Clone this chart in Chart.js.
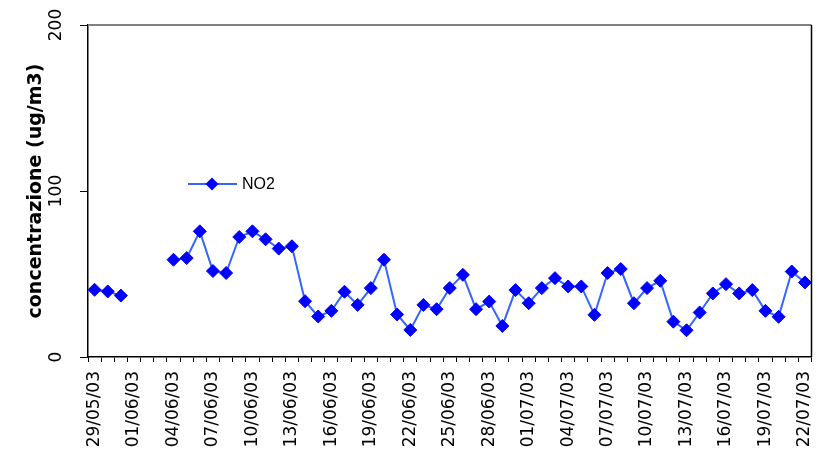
<!DOCTYPE html>
<html>
<head>
<meta charset="utf-8">
<script src="https://cdn.jsdelivr.net/npm/chart.js@4.4.0/dist/chart.umd.min.js"></script>
<style>
    html, body { margin: 0; padding: 0; background: #fff; }
    #wrap { width: 819px; height: 458px; }
</style>
</head>
<body>
<div id="wrap"><canvas id="chart"></canvas></div>
<script>
// Daily dates 29/05/03 .. 22/07/03
const dates = [
    '29/05/03', '30/05/03', '31/05/03', '01/06/03', '02/06/03', '03/06/03', '04/06/03', '05/06/03',
    '06/06/03', '07/06/03', '08/06/03', '09/06/03', '10/06/03', '11/06/03', '12/06/03', '13/06/03',
    '14/06/03', '15/06/03', '16/06/03', '17/06/03', '18/06/03', '19/06/03', '20/06/03', '21/06/03',
    '22/06/03', '23/06/03', '24/06/03', '25/06/03', '26/06/03', '27/06/03', '28/06/03', '29/06/03',
    '30/06/03', '01/07/03', '02/07/03', '03/07/03', '04/07/03', '05/07/03', '06/07/03', '07/07/03',
    '08/07/03', '09/07/03', '10/07/03', '11/07/03', '12/07/03', '13/07/03', '14/07/03', '15/07/03',
    '16/07/03', '17/07/03', '18/07/03', '19/07/03', '20/07/03', '21/07/03', '22/07/03'
];

// NO2 concentration (ug/m3), null = missing day
const no2 = [
    40.5, 39.5, 37, null, null, null, 58.6, 59.6,
    75.7, 51.8, 50.6, 72.3, 75.7, 70.9, 65.3, 66.7,
    33.6, 24.4, 27.8, 39.3, 31.4, 41.5, 58.6, 25.6,
    16.3, 31.4, 28.8, 41.5, 49.5, 28.8, 33.4, 18.7,
    40.3, 32.4, 41.5, 47.5, 42.5, 42.5, 25.4, 50.6,
    53, 32.4, 41.5, 45.9, 21.3, 16.1, 26.8, 38.3,
    43.9, 38.3, 40.3, 27.8, 24.2, 51.5, 44.9
];

const yTicks = [0, 100, 200];

const lineColor = '#3366ff';
const markerColor = '#0000ff';
const tickFont = '17px "DejaVu Sans", Verdana, sans-serif';

// plot frame: grey top line, black right line
const framePlugin = {
    id: 'frame',
    afterDraw(chart) {
        const { ctx, chartArea } = chart;
        ctx.save();
        ctx.lineWidth = 2;
        ctx.strokeStyle = '#808080';
        ctx.beginPath();
        ctx.moveTo(chartArea.left, chartArea.top);
        ctx.lineTo(chartArea.right, chartArea.top);
        ctx.stroke();
        ctx.lineWidth = 1.5;
        ctx.strokeStyle = '#000';
        ctx.beginPath();
        ctx.moveTo(chartArea.right, chartArea.top);
        ctx.lineTo(chartArea.right, chartArea.bottom);
        ctx.stroke();
        ctx.restore();
    }
};

// vertical y tick labels (reading upwards)
const yLabelsPlugin = {
    id: 'yLabels',
    afterDraw(chart) {
        const { ctx, chartArea } = chart;
        const scale = chart.scales.y;
        ctx.save();
        ctx.fillStyle = '#000';
        ctx.font = tickFont;
        ctx.textAlign = 'center';
        ctx.textBaseline = 'middle';
        scale.ticks.forEach(t => {
            const y = scale.getPixelForValue(t.value);
            ctx.save();
            ctx.translate(chartArea.left - 31, y);
            ctx.rotate(-Math.PI / 2);
            ctx.fillText(String(t.value), 0, 0);
            ctx.restore();
        });
        ctx.restore();
    }
};

// legend inside the plot area
const insideLegend = {
    id: 'insideLegend',
    afterDraw(chart) {
        const { ctx, chartArea } = chart;
        const ds = chart.data.datasets[0];
        const x0 = chartArea.left + 100;
        const y0 = chartArea.top + 159;
        const r = 6.5;
        ctx.save();
        ctx.strokeStyle = ds.borderColor;
        ctx.lineWidth = 2;
        ctx.beginPath();
        ctx.moveTo(x0, y0);
        ctx.lineTo(x0 + 49, y0);
        ctx.stroke();
        ctx.fillStyle = ds.pointBackgroundColor;
        ctx.beginPath();
        ctx.moveTo(x0 + 24, y0 - r);
        ctx.lineTo(x0 + 24 + r, y0);
        ctx.lineTo(x0 + 24, y0 + r);
        ctx.lineTo(x0 + 24 - r, y0);
        ctx.closePath();
        ctx.fill();
        ctx.fillStyle = '#000';
        ctx.font = '16px "Liberation Sans", Arial, sans-serif';
        ctx.textBaseline = 'middle';
        ctx.textAlign = 'left';
        ctx.fillText(ds.label, x0 + 54, y0 + 1);
        ctx.restore();
    }
};

new Chart(document.getElementById('chart'), {
    type: 'line',
    data: {
        labels: dates,
        datasets: [{
            label: 'NO2',
            data: no2,
            borderColor: lineColor,
            borderWidth: 2,
            pointStyle: 'rectRot',
            pointRadius: 6.5,
            pointHoverRadius: 6.5,
            pointBackgroundColor: markerColor,
            pointBorderColor: markerColor,
            pointBorderWidth: 1,
            spanGaps: false,
            tension: 0
        }]
    },
    options: {
        responsive: true,
        maintainAspectRatio: false,
        animation: false,
        layout: { padding: { top: 25, right: 7, left: 0, bottom: 0 } },
        plugins: {
            legend: { display: false },
            title: { display: false },
            tooltip: { enabled: false }
        },
        scales: {
            x: {
                type: 'category',
                offset: true,
                grid: {
                    offset: true,
                    drawOnChartArea: false,
                    drawTicks: true,
                    tickLength: 5,
                    color: '#000'
                },
                border: { display: true, color: '#000', width: 1.5 },
                ticks: {
                    autoSkip: false,
                    minRotation: 90,
                    maxRotation: 90,
                    padding: 9,
                    color: '#000',
                    font: { family: '"DejaVu Sans", Verdana, sans-serif', size: 17 },
                    callback(value, index) {
                        return index % 3 === 0 ? dates[index] : '';
                    }
                },
                afterFit(scale) {
                    scale.height = 101;
                    scale.paddingLeft = 0;
                    scale.paddingRight = 0;
                }
            },
            y: {
                min: 0,
                max: 200,
                afterBuildTicks(scale) {
                    scale.ticks = yTicks.map(v => ({ value: v }));
                },
                grid: {
                    drawOnChartArea: false,
                    drawTicks: true,
                    tickLength: 8,
                    color: '#000'
                },
                border: { display: true, color: '#000', width: 1.5 },
                ticks: { display: false },
                title: {
                    display: true,
                    text: 'concentrazione (ug/m3)',
                    color: '#000',
                    padding: { top: 25, bottom: 0 },
                    font: { family: '"DejaVu Sans", Verdana, sans-serif', size: 19, weight: 'bold' }
                },
                afterFit(scale) {
                    scale.width = 88;
                    scale.paddingTop = 0;
                    scale.paddingBottom = 0;
                }
            }
        }
    },
    plugins: [framePlugin, yLabelsPlugin, insideLegend]
});
</script>
</body>
</html>
